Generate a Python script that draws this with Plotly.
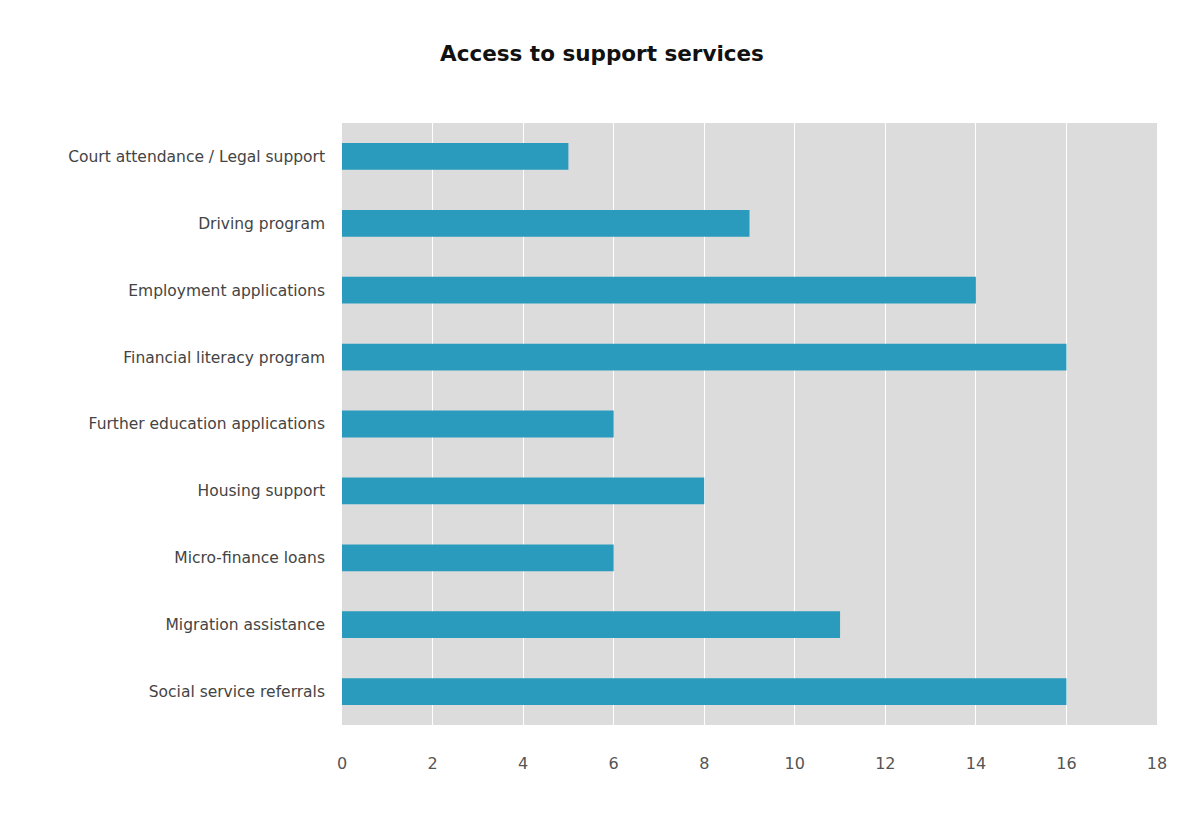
import plotly.graph_objects as go

categories = [
    "Court attendance / Legal support",
    "Driving program",
    "Employment applications",
    "Financial literacy program",
    "Further education applications",
    "Housing support",
    "Micro-finance loans",
    "Migration assistance",
    "Social service referrals",
]
values = [5, 9, 14, 16, 6, 8, 6, 11, 16]
tick_values = [0, 2, 4, 6, 8, 10, 12, 14, 16, 18]

fig = go.Figure(
    go.Bar(
        x=values,
        y=categories,
        orientation="h",
        width=0.4,
        marker=dict(color="#2a9bbd", line=dict(width=0)),
    )
)

fig.update_layout(
    width=1204,
    height=835,
    margin=dict(l=342, r=47, t=123, b=110),
    paper_bgcolor="white",
    plot_bgcolor="#dcdcdc",
    showlegend=False,
    title=dict(
        text="<b>Access to support services</b>",
        x=0.5,
        xanchor="center",
        y=0.936,
        yanchor="middle",
        font=dict(family="DejaVu Sans, sans-serif", size=21.5, color="#111"),
    ),
    font=dict(family="DejaVu Sans, sans-serif", color="#333"),
)

fig.update_xaxes(
    range=[0, 18],
    tickvals=tick_values,
    showgrid=True,
    gridcolor="white",
    gridwidth=1,
    zeroline=False,
    showline=False,
    ticks="",
    ticklabelstandoff=27,
    tickfont=dict(family="DejaVu Sans, sans-serif", size=16, color="#555"),
)

fig.update_yaxes(
    autorange="reversed",
    showgrid=False,
    zeroline=False,
    showline=False,
    ticks="",
    ticklabelstandoff=16,
    tickfont=dict(family="DejaVu Sans, sans-serif", size=15.5, color="#444"),
)

fig.write_html("out.html")
